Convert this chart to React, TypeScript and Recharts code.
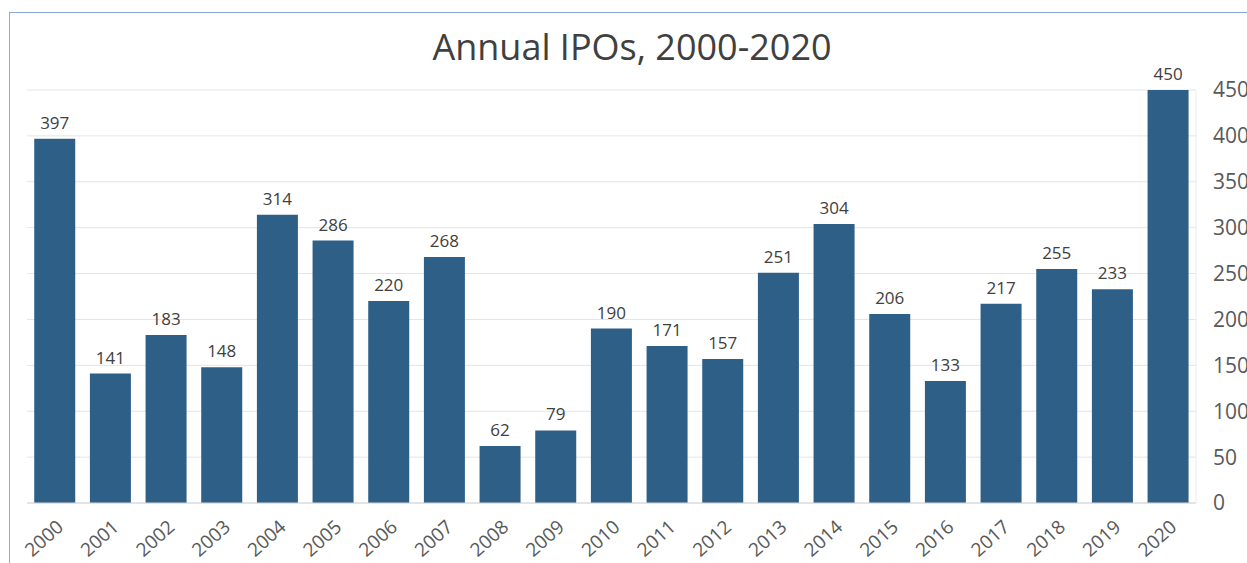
import React from 'react';
import { BarChart, Bar, XAxis, YAxis, CartesianGrid, LabelList } from 'recharts';

const chartTitle = 'Annual IPOs, 2000-2020';
const years = ['2000', '2001', '2002', '2003', '2004', '2005', '2006', '2007', '2008', '2009', '2010', '2011', '2012', '2013', '2014', '2015', '2016', '2017', '2018', '2019', '2020'];
const ipoCounts = [397, 141, 183, 148, 314, 286, 220, 268, 62, 79, 190, 171, 157, 251, 304, 206, 133, 217, 255, 233, 450];
const yTicks = [0, 50, 100, 150, 200, 250, 300, 350, 400, 450];

const data = years.map((year, i) => ({ year, ipos: ipoCounts[i] }));

const FONT = '"Open Sans", "Noto Sans", "DejaVu Sans", sans-serif';

function XTick(props: any) {
  const { x, y, payload } = props;
  return (
    <g transform={`translate(${x + 1},${y + 8})`}>
      <text
        x={0}
        y={0}
        dy={13}
        textAnchor="end"
        transform="rotate(-42)"
        fill="#595959"
        fontSize={19}
        fontFamily={FONT}
      >
        {payload.value}
      </text>
    </g>
  );
}

export default function App() {
  return (
    <div style={{ position: 'fixed', left: 0, top: 0, width: 1247, height: 563, background: '#ffffff', overflow: 'hidden' }}>
      <div
        style={{
          position: 'absolute',
          left: 9,
          top: 12,
          right: 0,
          bottom: 0,
          borderTop: '1px solid #8eaadb',
          borderLeft: '1px solid #8eaadb',
        }}
      />
      <div
        style={{
          position: 'absolute',
          left: 632,
          top: 27,
          transform: 'translateX(-50%)',
          whiteSpace: 'nowrap',
          fontFamily: FONT,
          fontSize: 36,
          lineHeight: '40px',
          color: '#404040',
        }}
      >
        {chartTitle}
      </div>
      <div style={{ position: 'absolute', left: 0, top: 0 }}>
        <BarChart
          width={1247}
          height={563}
          data={data}
          margin={{ top: 90, right: 6, bottom: 0, left: 27 }}
          barCategoryGap="13%"
        >
          <CartesianGrid vertical={false} stroke="#e4e4e4" />
          <XAxis
            dataKey="year"
            height={60}
            interval={0}
            tickLine={false}
            axisLine={{ stroke: '#d6d6d6' }}
            tick={<XTick />}
          />
          <YAxis
            orientation="right"
            width={45}
            domain={[0, 450]}
            ticks={yTicks}
            interval={0}
            tickLine={false}
            axisLine={{ stroke: '#ececec' }}
            tickMargin={11}
            tick={{ fill: '#595959', fontSize: 21, fontFamily: FONT }}
          />
          <Bar dataKey="ipos" fill="#2d5f87" isAnimationActive={false}>
            <LabelList dataKey="ipos" position="top" offset={10} fill="#404040" fontSize={17} fontFamily={FONT} />
          </Bar>
        </BarChart>
      </div>
    </div>
  );
}
